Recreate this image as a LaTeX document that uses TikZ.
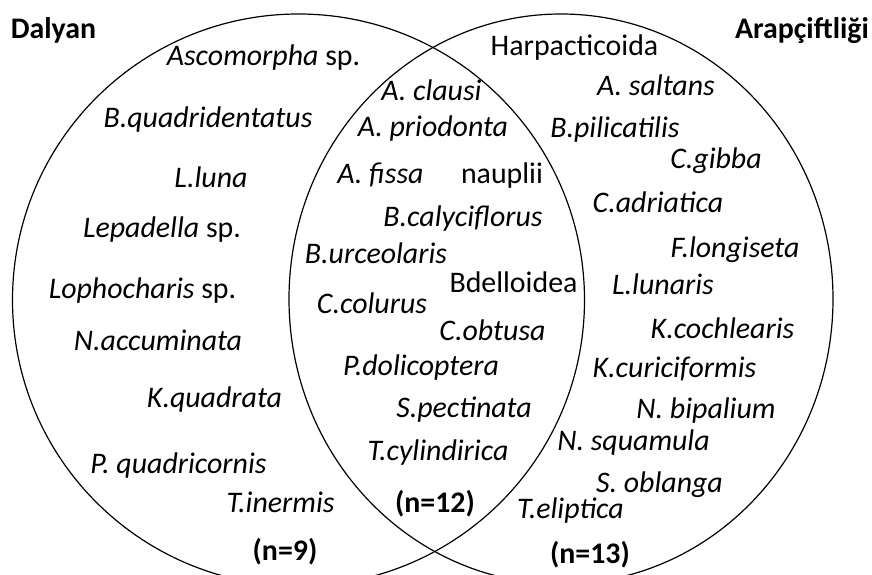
\documentclass[tikz,border=0pt]{standalone}
\usepackage{fontspec}
\setmainfont{Carlito}
\begin{document}
\begin{tikzpicture}[x=0.75pt, y=-0.75pt, line width=0.9pt,
  every node/.append style={inner sep=0pt, font=\fontsize{22.4}{26}\selectfont},
  tur/.style={anchor=base, font=\fontsize{22.4}{26}\selectfont\itshape},
  grup/.style={anchor=base},
  baslik/.style={anchor=base, font=\fontsize{22.4}{26}\selectfont\bfseries}]
  \useasboundingbox (0,0) rectangle (872,575);
  \begin{scope}
    \clip (0,0) rectangle (872,575);
    \draw (298.5,300) circle[x radius=286, y radius=286];
    \draw (561,299) circle[x radius=272, y radius=285];
  \end{scope}
  \node[baslik] (dalyan) at (53.5,38) {Dalyan};
  \node[baslik] (arap) at (802,38) {Arapçiftliği};
  % Dalyan
  \node[grup] (asco) at (263.5,65) {\textit{Ascomorpha} sp.};
  \node[tur] (bquad) at (208,127) {B.quadridentatus};
  \node[tur] (lluna) at (211,187) {L.luna};
  \node[grup] (lepa) at (162,237) {\textit{Lepadella} sp.};
  \node[grup] (lopho) at (142.5,298) {\textit{Lophocharis} sp.};
  \node[tur] (nacc) at (158,350) {N.accuminata};
  \node[tur] (kquad) at (214.5,407) {K.quadrata};
  \node[tur] (pquad) at (178.5,473) {P. quadricornis};
  \node[tur] (tiner) at (280.5,512) {T.inermis};
  \node[baslik] (n9) at (285,560) {(n=9)};
  % ortak
  \node[tur] (aclau) at (431.5,100) {A. clausi};
  \node[tur] (aprio) at (433,136) {A. priodonta};
  \node[tur] (afiss) at (380.5,183) {A. fissa};
  \node[grup] (naup) at (502,183) {nauplii};
  \node[tur] (bcaly) at (463,226) {B.calyciflorus};
  \node[tur] (burce) at (376,263) {B.urceolaris};
  \node[grup] (bdel) at (513.5,292) {Bdelloidea};
  \node[tur] (ccolu) at (372,313) {C.colurus};
  \node[tur] (cobt) at (492.5,340) {C.obtusa};
  \node[tur] (pdoli) at (421,375) {P.dolicoptera};
  \node[tur] (spect) at (464,417) {S.pectinata};
  \node[tur] (tcyl) at (438,460) {T.cylindirica};
  \node[baslik] (n12) at (435,512) {(n=12)};
  % Arapçiftliği
  \node[grup] (harp) at (574.5,55) {Harpacticoida};
  \node[tur] (asalt) at (656,95) {A. saltans};
  \node[tur] (bpili) at (615,137) {B.pilicatilis};
  \node[tur] (cgib) at (716,168) {C.gibba};
  \node[tur] (cadr) at (658,212) {C.adriatica};
  \node[tur] (flong) at (735,257) {F.longiseta};
  \node[tur] (llun) at (663,294) {L.lunaris};
  \node[tur] (kcoch) at (722.5,338) {K.cochlearis};
  \node[tur] (kcuri) at (674.5,377) {K.curiciformis};
  \node[tur] (nbip) at (706,418) {N. bipalium};
  \node[tur] (nsqu) at (633.5,450) {N. squamula};
  \node[tur] (sobl) at (659.5,492) {S. oblanga};
  \node[tur] (telip) at (570.5,518) {T.eliptica};
  \node[baslik] (n13) at (590,563) {(n=13)};
\end{tikzpicture}
\end{document}
